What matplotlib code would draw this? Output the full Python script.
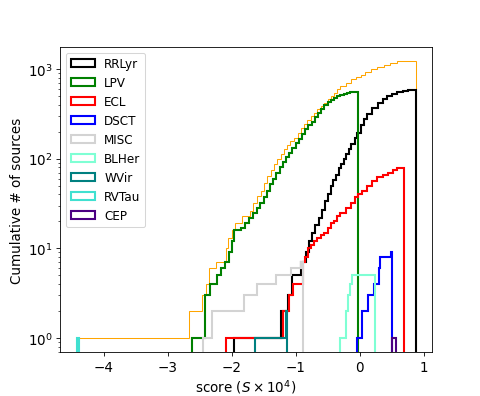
import matplotlib
matplotlib.use("Agg")
import matplotlib.pyplot as plt
from matplotlib.patches import Patch

# ---- data: cumulative counts (edges, counts) ----
all_edges = [-4.42, -2.67, -2.455, -2.40, -2.35, -2.245, -2.09, -2.06, -1.99, -1.95,
             -1.83, -1.71, -1.67, -1.60, -1.545, -1.49, -1.44, -1.39, -1.34, -1.29,
             -1.23, -1.18, -1.13, -1.08, -1.025, -0.97, -0.92, -0.87, -0.82, -0.76,
             -0.71, -0.66, -0.61, -0.56, -0.50, -0.45, -0.40, -0.35, -0.30, -0.22,
             -0.14, -0.06, 0.016, 0.09, 0.17, 0.27, 0.38, 0.48, 0.59, 0.70, 0.78, 0.874]
all_counts = [1, 2, 3, 4, 6, 7, 10, 13, 16, 19,
              23, 26, 32, 38, 44, 54, 64, 75, 87, 100,
              113, 127, 143, 157, 172, 195, 218, 242, 268, 298,
              326, 355, 386, 420, 460, 500, 545, 595, 646, 705,
              766, 820, 870, 930, 990, 1060, 1125, 1175, 1216, 1238, 1247]

rrlyr_edges = [-1.96, -1.227, -1.12, -1.055, -0.915, -0.84, -0.79, -0.74, -0.69, -0.64,
               -0.59, -0.54, -0.50, -0.45, -0.41, -0.37, -0.33, -0.29, -0.25, -0.21,
               -0.17, -0.13, -0.08, -0.04, 0.02, 0.07, 0.12, 0.20, 0.28, 0.36,
               0.43, 0.51, 0.59, 0.67, 0.75, 0.82, 0.874]
rrlyr_counts = [1, 2, 3, 5, 7, 9, 12, 15, 18, 22,
                27, 34, 40, 50, 58, 66, 78, 88, 100, 112,
                127, 145, 170, 195, 240, 275, 312, 365, 422, 465,
                500, 530, 553, 570, 582, 589]

lpv_edges = [-2.62, -2.42, -2.33, -2.23, -2.16, -2.10, -2.04, -2.00, -1.97, -1.86,
             -1.79, -1.73, -1.67, -1.61, -1.55, -1.50, -1.45, -1.40, -1.35, -1.30,
             -1.25, -1.20, -1.15, -1.10, -1.05, -1.00, -0.95, -0.90, -0.85, -0.80,
             -0.75, -0.70, -0.65, -0.60, -0.55, -0.50, -0.45, -0.40, -0.35, -0.30,
             -0.25, -0.20, -0.15, -0.10, -0.02]
lpv_counts = [1, 3, 4, 5, 6, 7, 9, 12, 16, 17,
              19, 22, 25, 28, 32, 37, 44, 52, 60, 70,
              80, 92, 104, 116, 130, 148, 168, 190, 212, 235,
              260, 290, 320, 355, 395, 430, 455, 480, 500, 515,
              530, 545, 552, 557]

ecl_edges = [-2.08, -1.19, -1.10, -1.035, -0.89, -0.86, -0.81, -0.76, -0.71, -0.66,
             -0.60, -0.55, -0.50, -0.45, -0.40, -0.35, -0.30, -0.22, -0.14, -0.07,
             -0.02, 0.04, 0.12, 0.20, 0.27, 0.37, 0.45, 0.52, 0.58, 0.69]
ecl_counts = [1, 2, 3, 4, 7, 8, 10, 11, 12, 13,
              14, 15, 17, 19, 20, 23, 25, 28, 32, 37,
              40, 44, 50, 56, 62, 65, 70, 75, 78]

dsct_edges = [-0.04, 0.04, 0.13, 0.22, 0.30, 0.32, 0.49, 0.51]
dsct_counts = [1, 2, 3, 4, 6, 8, 9]

misc_edges = [-2.44, -2.31, -1.81, -1.61, -1.30, -1.07, -0.92, -0.89]
misc_counts = [1, 2, 3, 4, 5, 6, 7]

blher_edges = [-0.30, -0.22, -0.18, -0.15, -0.125, 0.24]
blher_counts = [1, 2, 3, 4, 5]

wvir_edges = [-1.63, -1.15, -1.13]
wvir_counts = [1, 2]

rvtau_edges = [-4.42, -4.39]
rvtau_counts = [1]

cep_edges = [0.51, 0.56]
cep_counts = [1]

classes = ["RRLyr", "LPV", "ECL", "DSCT", "MISC", "BLHer", "WVir", "RVTau", "CEP"]
colors = ["black", "green", "red", "blue", "lightgray", "aquamarine", "teal",
          "turquoise", "indigo"]
series = [(rrlyr_edges, rrlyr_counts), (lpv_edges, lpv_counts), (ecl_edges, ecl_counts),
          (dsct_edges, dsct_counts), (misc_edges, misc_counts), (blher_edges, blher_counts),
          (wvir_edges, wvir_counts), (rvtau_edges, rvtau_counts), (cep_edges, cep_counts)]

fig, ax = plt.subplots(figsize=(6.4, 5.293), dpi=75)
ax.set_yscale("log")
ax.stairs(all_counts, all_edges, baseline=1e-3, color="orange", linewidth=1.0)
handles = []
for name, col, (e, c) in zip(classes, colors, series):
    ax.stairs(c, e, baseline=1e-3, color=col, linewidth=2.0, label=name)
    handles.append(Patch(facecolor="none", edgecolor=col, linewidth=2.0, label=name))

ax.set_xlim(-4.68, 1.13)
ax.set_ylim(0.69, 1780)
ax.tick_params(labelsize=13)
ax.set_xlabel(r"score ($S\times10^4$)", fontsize=13)
ax.set_ylabel("Cumulative # of sources", fontsize=13)
ax.legend(handles=handles, loc="upper left", fontsize=11.5)
fig.savefig("out.png", dpi=75)
